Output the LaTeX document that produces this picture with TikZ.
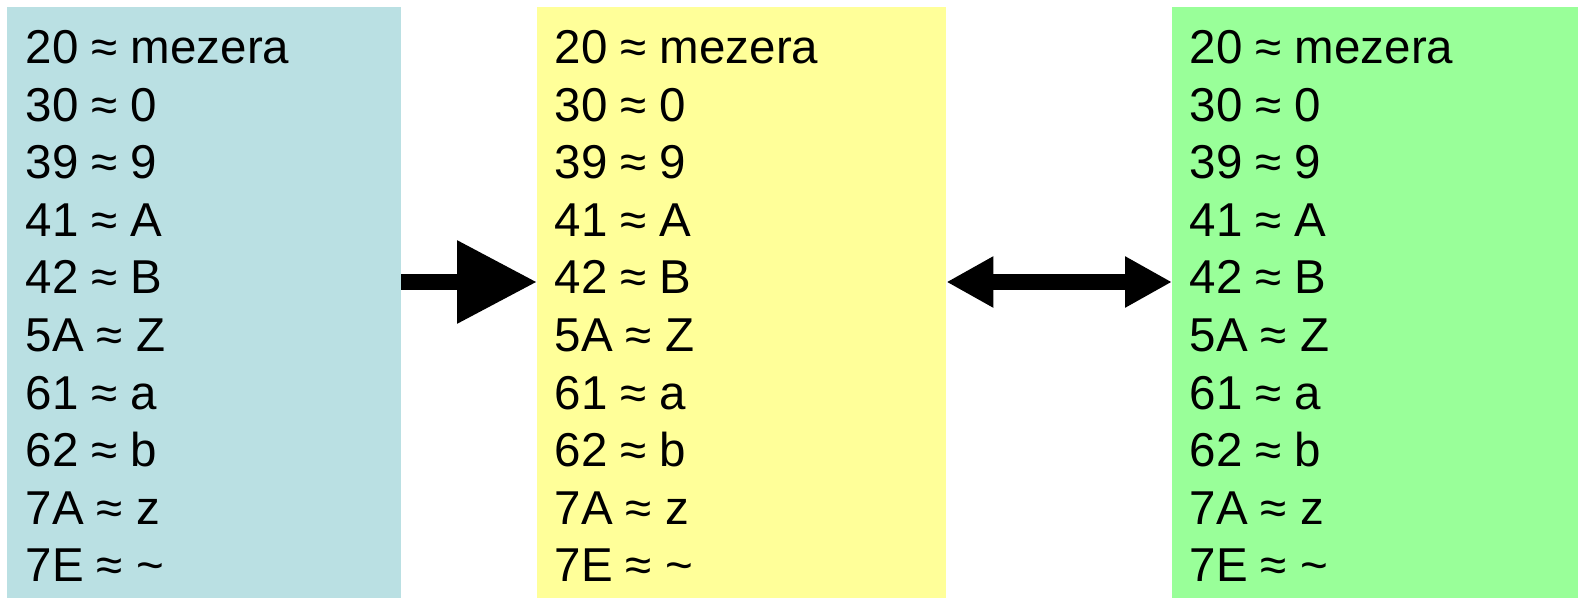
\documentclass[tikz,border=0pt]{standalone}
\usepackage{fontspec}
\setmainfont{Liberation Sans}
\usetikzlibrary{arrows.meta}
\definecolor{cblue}{HTML}{BAE0E3}
\definecolor{cyellow}{HTML}{FFFF99}
\definecolor{cgreen}{HTML}{99FF99}
\begin{document}
\begin{tikzpicture}[x=1pt,y=-1pt,
  panel/.style={fill=#1, draw=none, inner sep=0pt, anchor=north west, minimum height=591pt},
  entry/.style={anchor=base west, inner sep=0pt, font=\fontsize{47.5}{57.6}\selectfont},
  bigarrow/.style={line width=16pt}]
\useasboundingbox (0,0) rectangle (1578,599);
\node[panel=cblue, minimum width=394pt] (blue) at (7,7) {};
\node[panel=cyellow, minimum width=409pt] (yellow) at (537,7) {};
\node[panel=cgreen, minimum width=406pt] (green) at (1172,7) {};
\foreach \b/\bx in {blue/25.5, yellow/554.5, green/1189.5} {
  \foreach \t [count=\i from 0] in {20 ≈ mezera, 30 ≈ 0, 39 ≈ 9, 41 ≈ A, 42 ≈ B, 5A ≈ Z, 61 ≈ a, 62 ≈ b, 7A ≈ z, 7E ≈ \textasciitilde} {
    \node[entry] (\b-\i) at (\bx, 63.5+57.6*\i) {\t};
  }
}
\coordinate (ay) at (0,282);
\draw[bigarrow, -{Triangle[length=80pt,width=79pt]}] (blue.east |- ay) -- (yellow.west |- ay);
\draw[bigarrow, {Triangle[length=47pt,width=48pt]}-{Triangle[length=47pt,width=48pt]}] (yellow.east |- ay) -- (green.west |- ay);
\end{tikzpicture}
\end{document}
